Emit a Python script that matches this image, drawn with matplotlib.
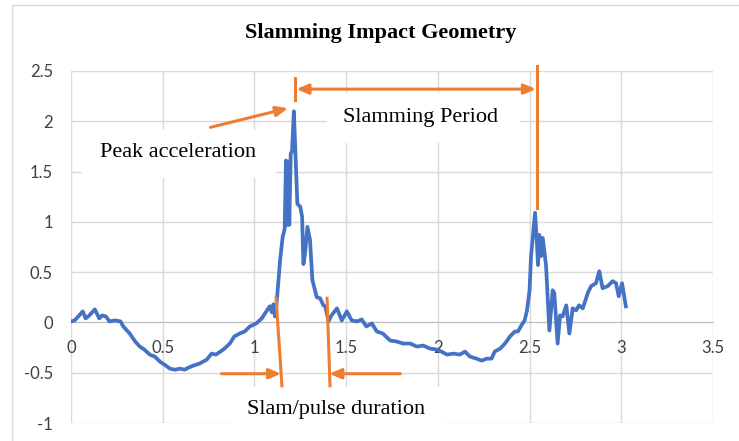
import matplotlib.pyplot as plt
from matplotlib.patches import Rectangle

# acceleration trace (time, accel)
t = [0.00, 0.02, 0.04, 0.064, 0.08, 0.10, 0.13, 0.154, 0.17, 0.19, 0.21, 0.24,
     0.27, 0.285, 0.32, 0.35, 0.375, 0.40, 0.43, 0.457, 0.485, 0.51, 0.54, 0.566,
     0.593, 0.62, 0.64, 0.666, 0.70, 0.74, 0.766, 0.79, 0.83, 0.866, 0.89, 0.92,
     0.947, 0.975, 1.01, 1.04, 1.065, 1.083, 1.095, 1.103, 1.112, 1.12,
     1.14, 1.154, 1.165, 1.172, 1.177, 1.18, 1.186, 1.19, 1.198, 1.205,
     1.215, 1.225, 1.234, 1.25, 1.26, 1.267, 1.275, 1.289, 1.303, 1.316, 1.34,
     1.358, 1.376, 1.386, 1.404, 1.42, 1.45, 1.476, 1.504, 1.53, 1.56, 1.585,
     1.61, 1.64, 1.667, 1.70, 1.74, 1.776, 1.81, 1.85, 1.885, 1.92, 1.957,
     1.994, 2.02, 2.05, 2.085, 2.12, 2.148, 2.175, 2.21, 2.24, 2.266, 2.293,
     2.31, 2.34, 2.366, 2.393, 2.42, 2.437, 2.455, 2.473, 2.486, 2.50, 2.508,
     2.52, 2.53, 2.541, 2.546, 2.553, 2.563, 2.572, 2.59, 2.608, 2.626, 2.635,
     2.653, 2.666, 2.68, 2.70, 2.717, 2.735, 2.753, 2.77, 2.79, 2.817, 2.835,
     2.862, 2.88, 2.898, 2.925, 2.953, 2.971, 2.986, 3.004, 3.025]
acc = [0.01, 0.02, 0.06, 0.11, 0.04, 0.07, 0.13, 0.04, 0.07, 0.06, 0.01, 0.02,
       0.01, -0.04, -0.11, -0.19, -0.24, -0.27, -0.32, -0.34, -0.39, -0.42, -0.46, -0.47,
       -0.46, -0.47, -0.45, -0.43, -0.41, -0.37, -0.31, -0.32, -0.27, -0.21, -0.14, -0.11,
       -0.09, -0.04, -0.01, 0.04, 0.11, 0.16, 0.10, 0.18, 0.06, 0.17,
       0.62, 0.85, 0.93, 1.61, 1.00, 0.97, 1.60, 0.97, 1.68, 1.70,
       2.10, 1.60, 1.18, 1.15, 1.05, 0.58, 0.67, 0.95, 0.82, 0.42, 0.25,
       0.24, 0.17, 0.16, 0.01, 0.07, 0.14, 0.02, 0.11, 0.02, 0.01, 0.03,
       -0.04, -0.01, -0.09, -0.11, -0.18, -0.19, -0.21, -0.21, -0.24, -0.23, -0.26,
       -0.27, -0.29, -0.32, -0.31, -0.32, -0.29, -0.34, -0.36, -0.38, -0.36, -0.36,
       -0.29, -0.26, -0.21, -0.14, -0.09, -0.09, -0.03, 0.02, 0.12, 0.32, 0.66,
       0.89, 1.09, 0.76, 0.57, 0.87, 0.66, 0.84, 0.56, -0.08, 0.32, 0.29,
       -0.21, 0.07, 0.06, 0.17, -0.11, 0.14, 0.12, 0.17, 0.14, 0.29, 0.36,
       0.39, 0.51, 0.34, 0.36, 0.41, 0.39, 0.26, 0.39, 0.16]

xticks = [0, 0.5, 1, 1.5, 2, 2.5, 3, 3.5]
xticklabels = ['0', '0.5', '1', '1.5', '2', '2.5', '3', '3.5']
yticks = [-1, -0.5, 0, 0.5, 1, 1.5, 2, 2.5]
yticklabels = ['-1', '-0.5', '0', '0.5', '1', '1.5', '2', '2.5']

blue = '#4472C4'
orange = '#ED7D31'
serif = 'Liberation Serif'

fig = plt.figure(figsize=(7.39, 4.41), dpi=100)
ax = fig.add_axes([71 / 739, 1 - 423 / 441, (713 - 71) / 739, (423 - 71) / 441])

# outer chart border (cut off at right/bottom in the reference)
fig.patches.append(Rectangle((12 / 739, -0.2), 1.2, 1.2 - 5 / 441,
                             transform=fig.transFigure, fill=False,
                             edgecolor='#D9D9D9', lw=1))

ax.set_xlim(0, 3.5)
ax.set_ylim(-1, 2.5)
ax.set_xticks(xticks)
ax.set_xticklabels(xticklabels)
ax.set_yticks(yticks)
ax.set_yticklabels(yticklabels)
ax.grid(True, color='#D9D9D9', lw=1, zorder=0)
ax.set_axisbelow(True)
for s in ['top', 'right', 'left']:
    ax.spines[s].set_visible(False)
ax.spines['bottom'].set_position(('data', 0))
ax.spines['bottom'].set_color('#BFBFBF')
ax.tick_params(axis='both', length=0, labelsize=12, labelcolor='#404040')
ax.tick_params(axis='x', pad=13)
ax.tick_params(axis='y', pad=13)
for lab in ax.get_xticklabels() + ax.get_yticklabels():
    lab.set_fontfamily('Lato')

# white text boxes
boxes = [(0.06, 1.44, 1.06, 0.47), (1.396, 1.78, 1.052, 0.50), (0.872, -1.09, 1.168, 0.45)]
for bx, by, bw, bh in boxes:
    ax.add_patch(Rectangle((bx, by), bw, bh, facecolor='white', edgecolor='none',
                           zorder=1.5, clip_on=False))

ax.plot(t, acc, color=blue, lw=2.7, zorder=3)

# annotations
ax.text(0.583, 1.69, 'Peak acceleration', family=serif, fontsize=16,
        ha='center', va='center', zorder=4)
ax.text(1.903, 2.04, 'Slamming Period', family=serif, fontsize=16,
        ha='center', va='center', zorder=4)
ax.text(1.445, -0.87, 'Slam/pulse duration', family=serif, fontsize=16,
        ha='center', va='center', zorder=4, clip_on=False)

aprops = dict(arrowstyle='-|>,head_length=0.7,head_width=0.3', color=orange,
              lw=2.2, shrinkA=0, shrinkB=0)
ax.annotate('', xy=(1.183, 2.13), xytext=(0.76, 1.94), arrowprops=aprops, zorder=5)
ax.annotate('', xy=(1.229, 2.32), xytext=(2.535, 2.32),
            arrowprops=dict(aprops, arrowstyle='<|-|>,head_length=0.7,head_width=0.3'),
            zorder=5)
ax.plot([1.222, 1.222], [2.21, 2.43], color=orange, lw=2.2, zorder=5, clip_on=False)
ax.plot([2.539, 2.539], [1.14, 2.55], color=orange, lw=2.2, zorder=5, clip_on=False)
ax.plot([1.118, 1.15], [0.24, -0.63], color=orange, lw=2.2, zorder=5)
ax.plot([1.396, 1.412], [0.24, -0.63], color=orange, lw=2.2, zorder=5)
ax.annotate('', xy=(1.145, -0.51), xytext=(0.82, -0.51), arrowprops=aprops, zorder=5)
ax.annotate('', xy=(1.408, -0.51), xytext=(1.795, -0.51), arrowprops=aprops, zorder=5)

fig.text(381 / 739, 1 - 33 / 441, 'Slamming Impact Geometry', family=serif,
         fontsize=16, fontweight='bold', ha='center', va='center')

fig.savefig('out.png', dpi=100)
